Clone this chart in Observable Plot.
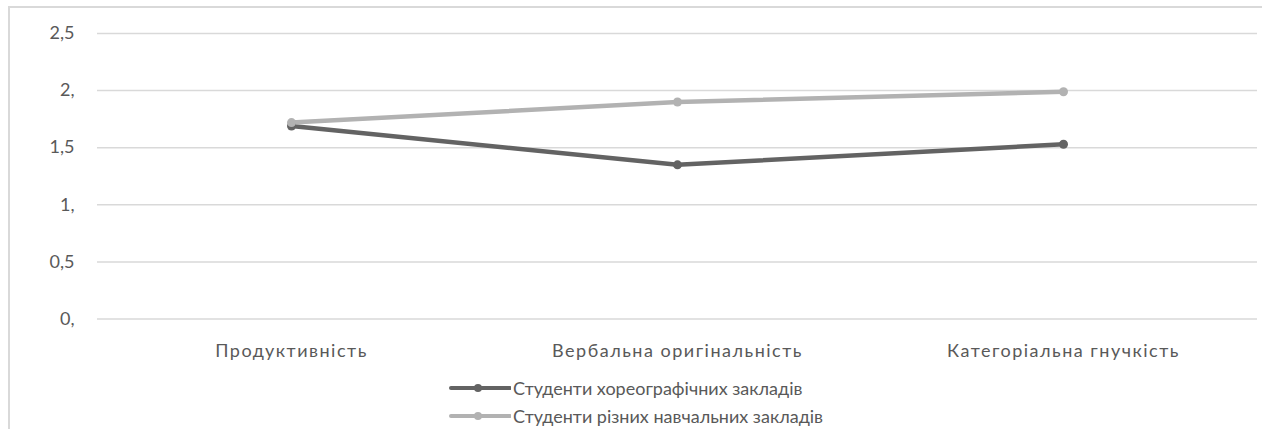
<!DOCTYPE html>
<html>
<head>
<meta charset="utf-8">
<script src="https://cdn.jsdelivr.net/npm/d3@7"></script>
<script src="https://cdn.jsdelivr.net/npm/@observablehq/plot@0.6"></script>
<style>
  html, body { margin: 0; padding: 0; background: #fff; width: 1262px; height: 429px; overflow: hidden; }
  #frame { position: absolute; left: 8px; top: 6px; width: 1400px; height: 500px; border-left: 2px solid #d9d9d9; border-top: 2px solid #d9d9d9; }
  #chart { position: absolute; left: 0; top: 0; }
  #legend { position: absolute; left: 449px; top: 374px; font-family: Lato, "Liberation Sans", sans-serif; font-size: 18px; color: #595959; display: flex; flex-direction: column; align-items: flex-start; }
  .row { display: flex; align-items: center; height: 28px; }
  .row svg { margin-right: 2px; }
</style>
</head>
<body>
<div id="frame"></div>
<div id="chart"></div>
<div id="legend"></div>
<script>
const categories = ["Продуктивність", "Вербальна оригінальність", "Категоріальна гнучкість"];
const seriesNames = ["Студенти хореографічних закладів", "Студенти різних навчальних закладів"];
const seriesColors = ["#636363", "#b2b2b2"];
const choreoValues = [1.69, 1.35, 1.53];
const variousValues = [1.72, 1.90, 1.99];
const yTicks = [0, 0.5, 1, 1.5, 2, 2.5];
const yTickLabels = ["0,", "0,5", "1,", "1,5", "2,", "2,5"];

const rows = [];
[choreoValues, variousValues].forEach((vals, s) => {
  vals.forEach((v, i) => rows.push({series: seriesNames[s], category: categories[i], value: v}));
});

const fontFamily = 'Lato, "Liberation Sans", sans-serif';

const chart = Plot.plot({
  width: 1262,
  height: 372,
  marginLeft: 97,
  marginRight: 5,
  marginTop: 33,
  marginBottom: 53.5,
  style: {fontFamily, fontSize: "18px", color: "#595959", background: "transparent"},
  x: {type: "point", domain: categories, padding: 0.5, label: null},
  y: {domain: [0, 2.5], label: null},
  color: {domain: seriesNames, range: seriesColors},
  marks: [
    Plot.ruleY(yTicks, {stroke: "#d9d9d9", strokeWidth: 1.5}),
    Plot.axisY(yTicks, {tickSize: 0, tickPadding: 23, tickFormat: (d) => yTickLabels[yTicks.indexOf(d)], label: null, fill: "#595959"}),
    Plot.axisX({tickSize: 0, tickPadding: 25, label: null, fill: "#595959"}),
    Plot.line(rows, {x: "category", y: "value", z: "series", stroke: "series", strokeWidth: 4.5, strokeLinejoin: "round"}),
    Plot.dot(rows, {x: "category", y: "value", fill: "series", r: 4.5})
  ]
});
d3.select(chart).selectAll('g[aria-label="x-axis tick label"] text').style("letter-spacing", "1.5px");
document.getElementById("chart").appendChild(chart);

const legend = document.getElementById("legend");
seriesNames.forEach((name, i) => {
  const row = document.createElement("div");
  row.className = "row";
  row.innerHTML = `<svg width="62" height="12"><line x1="2" y1="6" x2="61" y2="6" stroke="${seriesColors[i]}" stroke-width="4" stroke-linecap="round"/><circle cx="29" cy="6" r="4" fill="${seriesColors[i]}"/></svg><span>${name}</span>`;
  legend.appendChild(row);
});
</script>
</body>
</html>
